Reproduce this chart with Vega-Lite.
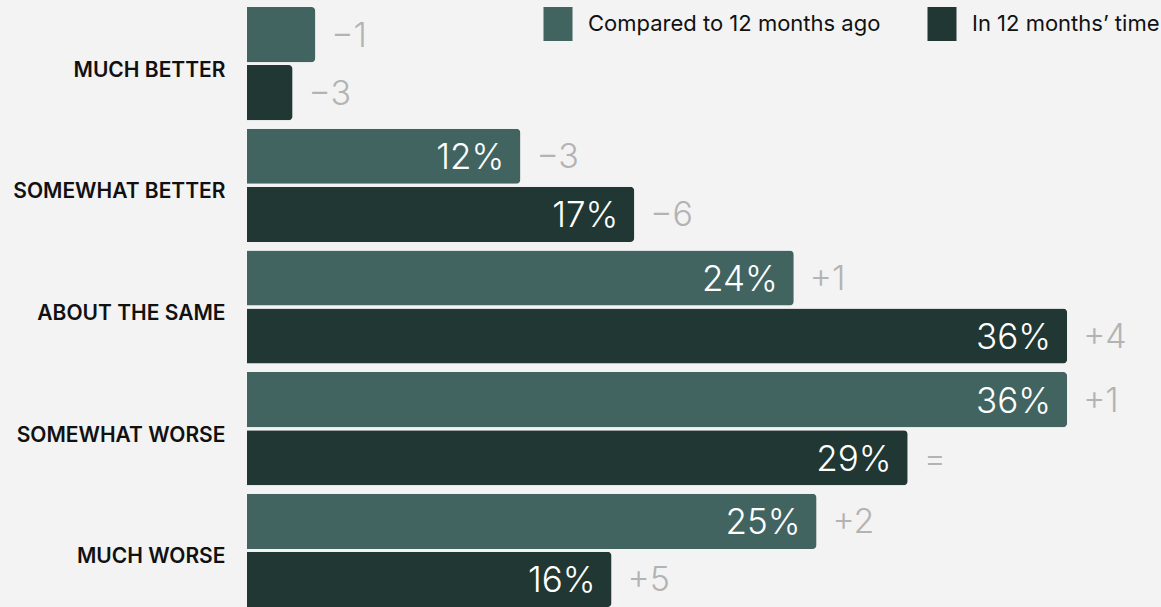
{
  "$schema": "https://vega.github.io/schema/vega-lite/v6.json",
  "width": 914,
  "height": 607,
  "padding": {"left": 247, "top": 0, "right": 0, "bottom": 0},
  "autosize": {"type": "none"},
  "background": "#f3f3f3",
  "config": {"view": {"stroke": null}, "font": "Inter"},
  "data": {
    "values": [
      {"category": "MUCH BETTER", "series": "Compared to 12 months ago", "value": 0.03, "change": "−1"},
      {"category": "MUCH BETTER", "series": "In 12 months’ time", "value": 0.02, "change": "−3"},
      {"category": "SOMEWHAT BETTER", "series": "Compared to 12 months ago", "value": 0.12, "change": "−3"},
      {"category": "SOMEWHAT BETTER", "series": "In 12 months’ time", "value": 0.17, "change": "−6"},
      {"category": "ABOUT THE SAME", "series": "Compared to 12 months ago", "value": 0.24, "change": "+1"},
      {"category": "ABOUT THE SAME", "series": "In 12 months’ time", "value": 0.36, "change": "+4"},
      {"category": "SOMEWHAT WORSE", "series": "Compared to 12 months ago", "value": 0.36, "change": "+1"},
      {"category": "SOMEWHAT WORSE", "series": "In 12 months’ time", "value": 0.29, "change": "="},
      {"category": "MUCH WORSE", "series": "Compared to 12 months ago", "value": 0.25, "change": "+2"},
      {"category": "MUCH WORSE", "series": "In 12 months’ time", "value": 0.16, "change": "+5"}
    ]
  },
  "encoding": {
    "y": {
      "field": "category",
      "type": "nominal",
      "sort": null,
      "scale": {"paddingInner": 0.07, "paddingOuter": 0.0288, "align": 1},
      "axis": {
        "title": null,
        "domain": false,
        "ticks": false,
        "grid": false,
        "labelFontSize": 21,
        "labelFontWeight": 600,
        "labelColor": "#111111",
        "labelPadding": 22,
        "labelOffset": 7,
        "labelLimit": 300
      }
    },
    "yOffset": {
      "field": "series",
      "type": "nominal",
      "sort": null,
      "scale": {"paddingInner": 0.05, "paddingOuter": 0}
    },
    "x": {
      "field": "value",
      "type": "quantitative",
      "scale": {"domain": [0, 0.4012]},
      "axis": null
    }
  },
  "layer": [
    {
      "mark": {"type": "bar", "cornerRadiusEnd": 4},
      "encoding": {
        "color": {
          "field": "series",
          "type": "nominal",
          "sort": null,
          "scale": {"range": ["#416461", "#203733"]},
          "legend": {
            "title": null,
            "orient": "none",
            "legendX": 294,
            "legendY": 7,
            "direction": "horizontal",
            "symbolType": "M-0.853,-1H0.853V1H-0.853Z",
            "symbolSize": 1156,
            "symbolOpacity": 1,
            "symbolStrokeWidth": 0,
            "labelFontSize": 22,
            "labelColor": "#111111",
            "labelOffset": 13,
            "columnPadding": 44,
            "labelLimit": 400
          }
        }
      }
    },
    {
      "transform": [{"filter": "datum.value >= 0.05"}],
      "mark": {"type": "text", "align": "right", "baseline": "middle", "dx": -16, "dy": 2, "fontSize": 35, "fontWeight": 300, "color": "#ffffff"},
      "encoding": {"text": {"field": "value", "type": "quantitative", "format": ".0%"}}
    },
    {
      "mark": {"type": "text", "align": "left", "baseline": "middle", "dx": 16, "dy": 2, "fontSize": 34, "fontWeight": 300, "color": "#b3b3b3"},
      "encoding": {"text": {"field": "change", "type": "nominal"}}
    }
  ]
}
